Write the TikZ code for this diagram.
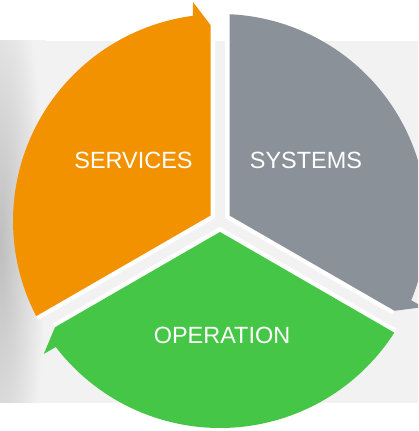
\documentclass[tikz,border=0pt]{standalone}
\usepackage{fontspec}
\setmainfont{Liberation Sans}
\definecolor{cOrange}{HTML}{F39200}
\definecolor{cGray}{HTML}{8A9199}
\definecolor{cGreen}{HTML}{45C646}
\definecolor{cPanel}{HTML}{F2F2F2}
\definecolor{cShadow}{HTML}{BEBEBE}
\tikzset{
  pics/segment/.style={code={
    \draw[white, line width=6.75pt, line join=miter]
      (-9.5,196) -- (150:10.97) -- (207.37:207);
    \fill[#1] (150:10.97) -- (-9.5,196) -- (-27,219) -- (97.5:207)
      arc[start angle=97.5, end angle=207.37, radius=207] -- cycle;
  }},
  label/.style={text=white, font=\fontsize{17.6}{20}\selectfont, inner sep=0pt}
}
\begin{document}
\begin{tikzpicture}[x=0.75pt, y=0.75pt]
  \clip (0,0) rectangle (418,431);
  % background panel
  \fill[cPanel] (0,28) rectangle (418,390);
  \begin{scope}
    \clip (0,28) rectangle (418,390);
    \shade[inner color=cShadow, outer color=cPanel] (-46,-104) rectangle (46,476);
  \end{scope}
  \coordinate (C) at (220,210);
  \pic at (C) {segment=cOrange};
  \pic[rotate=-120] at (C) {segment=cGray};
  \pic[rotate=-240] at (C) {segment=cGreen};
  \node[label] (services) at (133.5,270.5) {SERVICES};
  \node[label] (systems) at (306,271) {SYSTEMS};
  \node[label] (operation) at (222,96) {OPERATION};
\end{tikzpicture}
\end{document}
